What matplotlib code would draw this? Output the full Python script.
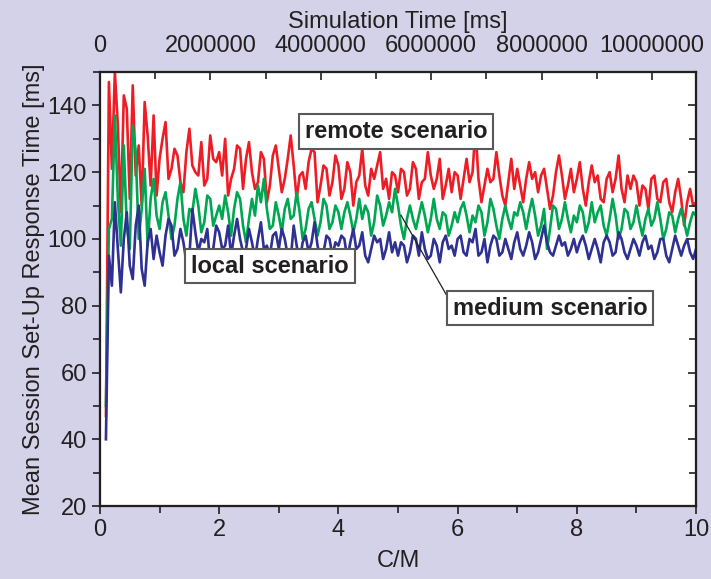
import numpy as np
import matplotlib
matplotlib.use("Agg")
import matplotlib.pyplot as plt
from matplotlib.ticker import MultipleLocator, FuncFormatter

# C/M values, one sample every 0.05 from 0.1 to 10
cm = np.round(np.arange(0.1, 10.001, 0.05), 2)

remote = [
    47, 147, 121, 150, 134, 108, 143, 139, 112, 146, 119, 128, 110, 141, 131, 116, 137, 113,
    124, 130, 135, 118, 121, 127, 125, 117, 114, 126, 133, 122, 120, 119, 129, 116, 118, 131, 124, 123,
    126, 119, 130, 113, 118, 121, 128, 127, 115, 124, 129, 120, 115, 117, 126, 124, 111, 116, 125, 128,
    121, 114, 118, 124, 131, 122, 112, 119, 120, 115, 123, 127, 126, 111, 116, 122, 121, 113, 117, 125,
    122, 112, 115, 123, 120, 110, 117, 119, 127, 116, 113, 121, 118, 122, 126, 115, 118, 112, 120, 119,
    114, 121, 120, 113, 115, 123, 121, 112, 117, 118, 126, 119, 115, 118, 124, 112, 116, 121, 114, 120,
    119, 112, 118, 124, 117, 120, 133, 118, 111, 116, 121, 117, 118, 126, 119, 113, 110, 117, 124, 115,
    121, 116, 111, 118, 123, 118, 120, 114, 119, 121, 115, 109, 113, 120, 125, 119, 112, 116, 121, 114,
    118, 123, 115, 110, 117, 122, 117, 119, 112, 111, 118, 120, 114, 118, 125, 115, 111, 119, 115, 119,
    117, 110, 116, 115, 109, 118, 119, 112, 111, 117, 118, 111, 108, 114, 118, 112, 104, 111, 115, 110,
    111,
]

medium = [
    50, 103, 106, 137, 112, 98, 128, 104, 97, 134, 126, 100, 109, 121, 98, 112, 118, 107,
    103, 111, 114, 107, 100, 104, 112, 117, 106, 101, 109, 108, 115, 110, 102, 105, 113, 112, 104, 107,
    110, 106, 113, 108, 101, 109, 114, 112, 104, 99, 106, 112, 107, 116, 111, 118, 109, 103, 104, 111,
    107, 102, 109, 112, 106, 107, 114, 108, 100, 103, 109, 111, 106, 101, 105, 112, 110, 103, 105, 110,
    108, 103, 108, 111, 107, 102, 106, 112, 106, 110, 108, 101, 105, 113, 110, 104, 107, 111, 108, 115,
    110, 104, 100, 106, 110, 106, 103, 107, 111, 107, 102, 106, 112, 106, 103, 108, 107, 101, 104, 108,
    105, 109, 111, 107, 102, 107, 105, 110, 108, 101, 105, 112, 109, 104, 100, 106, 110, 106, 103, 108,
    107, 111, 108, 103, 108, 112, 107, 101, 104, 109, 97, 103, 110, 109, 103, 106, 111, 106, 102, 107,
    105, 110, 108, 102, 105, 111, 105, 108, 110, 104, 101, 106, 112, 107, 100, 103, 109, 108, 103, 105,
    110, 105, 101, 106, 109, 104, 106, 111, 106, 100, 103, 108, 107, 102, 106, 109, 105, 101, 105, 108,
    107,
]

local = [
    40, 95, 86, 111, 97, 84, 100, 108, 92, 88, 104, 110, 91, 86, 99, 103, 94, 101,
    96, 92, 101, 106, 104, 95, 97, 103, 99, 93, 95, 109, 102, 96, 100, 99, 103, 92, 97, 104,
    102, 97, 98, 104, 95, 101, 106, 100, 96, 97, 103, 99, 94, 100, 105, 97, 98, 95, 101, 102,
    97, 103, 100, 95, 94, 104, 98, 93, 99, 101, 96, 99, 105, 98, 94, 96, 101, 100, 95, 99,
    98, 101, 100, 94, 99, 103, 97, 98, 102, 95, 93, 97, 101, 99, 100, 94, 97, 102, 96, 99,
    95, 99, 98, 93, 96, 101, 100, 95, 102, 97, 94, 95, 100, 98, 93, 99, 101, 97, 98, 95,
    100, 101, 96, 95, 100, 99, 103, 95, 96, 100, 93, 98, 101, 100, 95, 96, 100, 97, 94, 99,
    102, 97, 95, 98, 102, 99, 94, 96, 100, 104, 99, 96, 95, 98, 101, 98, 99, 95, 97, 100,
    96, 99, 101, 98, 94, 97, 100, 97, 93, 99, 101, 99, 95, 96, 102, 100, 96, 94, 97, 100,
    98, 95, 99, 101, 97, 98, 94, 96, 100, 100, 95, 93, 97, 101, 98, 95, 98, 100, 96, 94,
    97,
]

plt.rcParams['font.family'] = ['Liberation Sans', 'DejaVu Sans']

ink = '#231f20'
bg = '#d4d2e8'
fig = plt.figure(figsize=(7.11, 5.79), dpi=100, facecolor=bg)
ax = fig.add_axes([0.1406, 0.126, 0.8384, 0.7496])
ax.set_facecolor('white')

ax.plot(cm, remote, color='#ee1d25', lw=1.9, zorder=3)
ax.plot(cm, medium, color='#00a651', lw=1.9, zorder=3)
ax.plot(cm, local, color='#2e3192', lw=1.9, zorder=3)

ax.set_xlim(0, 10)
ax.set_ylim(20, 150)
ax.xaxis.set_major_locator(MultipleLocator(2))
ax.xaxis.set_minor_locator(MultipleLocator(1))
ax.yaxis.set_major_locator(MultipleLocator(20))
ax.yaxis.set_minor_locator(MultipleLocator(10))
ax.tick_params(axis='both', which='both', direction='out', labelsize=17, colors=ink)
ax.tick_params(which='major', length=6, width=1.2)
ax.tick_params(which='minor', length=5, width=1.2)
ax.set_xlabel('C/M', fontsize=17, color=ink, labelpad=6)
ax.set_ylabel('Mean Session Set-Up Response Time [ms]', fontsize=17, color=ink, labelpad=2)
for s in ax.spines.values():
    s.set_linewidth(1.5)
    s.set_color(ink)

# right axis: inward ticks, no labels
rt = ax.twinx()
rt.set_ylim(20, 150)
rt.yaxis.set_major_locator(MultipleLocator(20))
rt.yaxis.set_minor_locator(MultipleLocator(10))
rt.tick_params(axis='y', which='both', direction='in', labelright=False, colors=ink)
rt.tick_params(which='major', length=6, width=1.2)
rt.tick_params(which='minor', length=5, width=1.2)

top = ax.twiny()
top.set_xlim(0, 10.8e6)
top.xaxis.set_major_locator(MultipleLocator(2e6))
top.xaxis.set_minor_locator(MultipleLocator(1e6))
top.xaxis.set_major_formatter(FuncFormatter(lambda v, p: '%d' % v))
top.tick_params(axis='x', which='both', direction='in', labelsize=17, colors=ink, pad=11)
top.tick_params(which='major', length=6, width=1.2)
top.tick_params(which='minor', length=5, width=1.2)
top.set_xlabel('Simulation Time [ms]', fontsize=17, color=ink, labelpad=5)
for a in (rt, top):
    for s in a.spines.values():
        s.set_linewidth(1.5)
        s.set_color(ink)

box = dict(boxstyle='square,pad=0.25', facecolor='white', edgecolor='#58595b', linewidth=1.5)
ax.text(4.97, 132.3, 'remote scenario', fontsize=17, fontweight='bold', ha='center', va='center',
        bbox=box, zorder=5, color=ink)
ax.text(2.85, 91.9, 'local scenario', fontsize=17, fontweight='bold', ha='center', va='center',
        bbox=box, zorder=5, color=ink)
ax.text(7.55, 79.3, 'medium scenario', fontsize=17, fontweight='bold', ha='center', va='center',
        bbox=box, zorder=5, color=ink)
ax.plot([5.05, 5.89], [107.1, 80.8], color=ink, lw=0.9, zorder=4)

fig.savefig('out.png', dpi=100, facecolor=bg)
